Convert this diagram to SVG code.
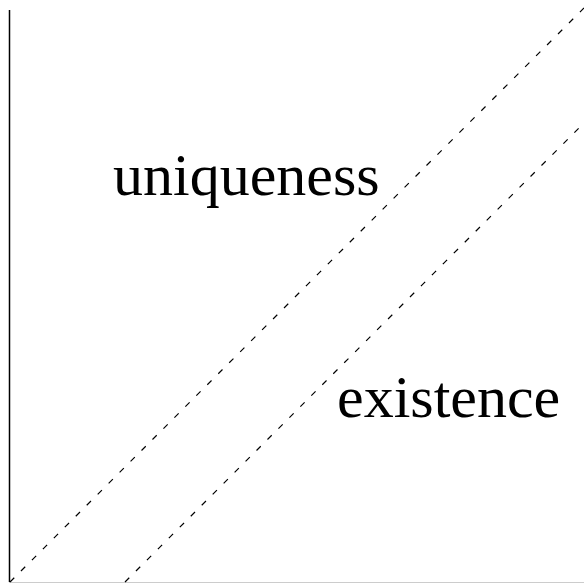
<svg xmlns="http://www.w3.org/2000/svg" width="584" height="584" viewBox="0 0 584 584">
<style>
.t{font-family:"Liberation Serif","Times New Roman",serif;font-size:60px;fill:#000}
.d{stroke:#000;stroke-width:1.2;stroke-dasharray:6,9.5;fill:none}
</style>
<rect width="584" height="584" fill="#fff"/>
<g id="axes">
<line x1="9.5" y1="10" x2="9.5" y2="582" stroke="#000" stroke-width="1.5"/>
<line x1="9" y1="582.5" x2="584" y2="582.5" stroke="#ccc" stroke-width="1"/>
</g>
<g id="connectors">
<line class="d" x1="10" y1="582" x2="584" y2="8"/>
<line class="d" x1="125" y1="582" x2="584" y2="123"/>
</g>
<g id="uniqueness"><text class="t" x="113" y="195">uniqueness</text></g>
<g id="existence"><text class="t" x="337" y="417">existence</text></g>
</svg>
